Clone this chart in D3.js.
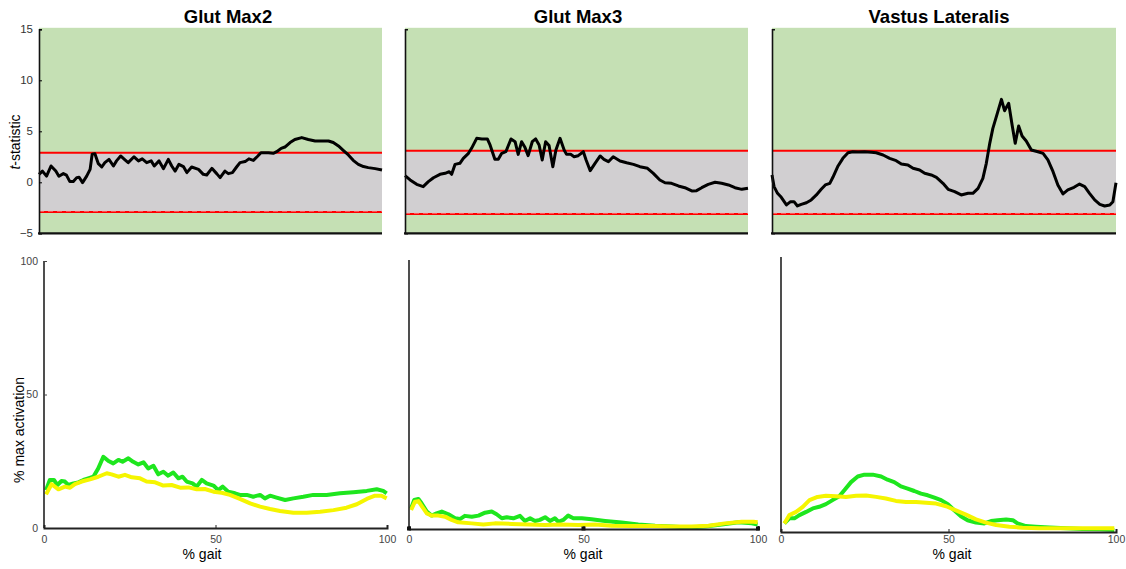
<!DOCTYPE html>
<html>
<head>
<meta charset="utf-8">
<script src="https://cdn.jsdelivr.net/npm/d3@7"></script>
<style>
  body { margin: 0; background: #fff; }
  svg { display: block; font-family: "Liberation Sans", Arial, sans-serif; }
</style>
</head>
<body>
<div id="chart"></div>
<script>
// ---- data ----
const muscles = ["Glut Max2", "Glut Max3", "Vastus Lateralis"];
const tTicks = [-5, 0, 5, 10, 15];
const actTicks = [0, 50, 100];
const gaitTicks = [0, 50, 100];
const tCritical = [2.9, 3.1, 3.1];

// SPM t-statistic curves, [% gait, t]
const tGlutMax2 = [[0,0.78],[1,1.1],[2.2,0.6],[3.5,1.6],[4.9,1.1],[5.8,0.6],[7.1,0.85],[8,0.7],[9,0.07],[10,0.07],[11,0.46],[11.7,0.5],[12.7,-0.03],[13.9,0.6],[14.9,1.27],[15.5,2.75],[16.3,2.8],[17.3,1.83],[18.3,1.5],[19.2,1.93],[20.4,2.25],[21.7,1.6],[22.6,2.1],[23.8,2.58],[24.9,2.25],[26,1.93],[27.7,2.5],[29,2.1],[30.1,2.3],[31.4,1.93],[32.7,2.1],[33.6,1.6],[35,2.1],[36.3,1.34],[37.7,2.25],[38.7,1.6],[39.7,1.1],[40.8,1.76],[42.1,1.54],[43.1,0.95],[44.5,1.5],[46.5,1.27],[47.9,0.78],[48.9,0.72],[50.4,1.37],[51.8,0.85],[52.8,0.46],[54.2,1.1],[55.2,0.85],[56.4,0.95],[57.6,1.5],[58.6,1.93],[60.1,2.03],[61.2,2.3],[62.5,2.15],[63.8,2.58],[64.7,2.9],[66.9,2.9],[68.3,2.84],[69.3,3.0],[70.6,3.33],[71.7,3.46],[73.2,3.9],[74.6,4.2],[76.6,4.38],[78.5,4.2],[80.5,4.05],[82.4,4.05],[84.4,4.05],[85.8,3.9],[87.3,3.56],[88.7,3.14],[90.2,2.68],[91.6,2.15],[93.1,1.76],[94.6,1.54],[96,1.44],[98,1.34],[100,1.2]];
const tGlutMax3 = [[0,0.65],[1.5,0.23],[3.4,-0.2],[5.3,-0.43],[6.8,0.06],[8.3,0.45],[10.2,0.78],[11.7,0.88],[12.9,1.04],[13.6,0.78],[14.6,1.76],[16,1.86],[17,2.35],[18.5,2.84],[19.4,3.33],[20.9,4.31],[22.4,4.25],[24,4.25],[24.8,3.66],[26.2,2.25],[27.2,2.25],[28.2,2.84],[29.4,3.0],[30.9,4.25],[32.1,3.98],[33,2.74],[34,3.98],[35,3.4],[35.9,2.61],[37.1,3.98],[38.1,4.25],[39.1,3.66],[40,2.19],[41,3.98],[42,3.6],[43.1,1.53],[44,3.17],[45.2,4.31],[46.4,3.17],[47.1,2.74],[48.3,2.74],[49.3,2.51],[50.5,2.61],[52,3.0],[52.8,2.19],[54,1.14],[55.4,1.86],[56.9,2.58],[58,2.25],[59.3,2.02],[60.7,2.51],[62.7,2.09],[64.6,1.92],[66.6,1.76],[68.5,1.53],[70.7,1.37],[72.4,0.88],[74.3,0.23],[75.8,-0.04],[77.7,-0.1],[79.7,-0.36],[81.6,-0.53],[83.6,-0.85],[85,-0.82],[86.5,-0.53],[88.4,-0.2],[90.4,0],[92.3,-0.1],[94.3,-0.26],[96.2,-0.53],[98.2,-0.69],[100,-0.59]];
const tVastusLat = [[0,0.71],[0.6,-0.42],[1.6,-1.08],[2.7,-1.47],[4.2,-2.22],[5.4,-1.9],[6.4,-1.9],[7.4,-2.32],[8.5,-2.16],[10,-2.0],[11.4,-1.73],[12.9,-1.24],[14.3,-0.69],[15.5,-0.26],[16.8,-0.1],[17.7,0.49],[19.2,1.6],[20.6,2.35],[22.1,2.9],[23.5,3.0],[25,2.97],[26.9,3.0],[28.9,2.94],[30.3,2.9],[32.3,2.68],[34.2,2.35],[36.1,2.12],[37.6,1.79],[39.5,1.7],[41,1.37],[42.9,1.21],[44.4,0.88],[46.3,0.72],[47.8,0.49],[49.7,-0.1],[51.2,-0.69],[53.1,-0.92],[55,-1.24],[57,-1.08],[58.4,-1.08],[59.9,-0.59],[61.3,0.39],[62.3,1.86],[63.3,3.82],[64.2,5.29],[65.5,6.76],[66.7,8.13],[67.6,7.02],[68.8,7.74],[69.8,5.62],[70.7,3.82],[71.7,5.52],[72.7,4.54],[73.9,4.05],[75.4,3.17],[77.3,3.0],[78.8,2.84],[80.2,2.19],[81.7,1.04],[83.1,-0.26],[84.6,-1.14],[86,-0.75],[87.8,-0.49],[89.4,-0.17],[90.9,-0.42],[92.3,-1.08],[93.8,-1.73],[95.3,-2.16],[96.7,-2.32],[98.2,-2.22],[99.1,-1.9],[100,-0.04]];

// mean activation curves, [% gait, % max activation]
const actGreenGlutMax2 = [[0.6,14.2],[1.7,18],[2.9,18],[3.9,16.1],[5.1,17.6],[6.1,17.4],[7.1,16.1],[8.6,16.7],[10,17.1],[11.5,18],[12.9,18.6],[14.4,19.2],[15.8,22.3],[17.3,26.7],[18.8,25.1],[20.2,24.2],[21.7,25.5],[22.9,24.8],[24.6,26.1],[26,24.8],[27.5,23.8],[29,24.6],[30.4,22.3],[31.9,23.3],[33.3,20.1],[34.8,21.1],[36.2,19.6],[37.7,20.8],[39.2,18.6],[40.4,19.2],[41.6,17.4],[43.3,16.7],[44.5,15.5],[46,18],[47.4,16.7],[49.4,15.9],[50.8,14.2],[52.1,15.5],[53.7,13.6],[55.7,13],[57.1,12.4],[59.1,12.4],[61,11.7],[63,12.4],[64.4,11.1],[65.9,12.1],[67.8,11.4],[70.3,10.5],[72.7,11.1],[75.6,11.7],[78.5,12.4],[82.4,12.4],[86.3,13],[90.2,13.4],[94.1,13.9],[97,14.5],[98.9,13.9],[99.9,13]];
const actYellowGlutMax2 = [[0.6,12.6],[2.2,16.4],[4.2,14.5],[6.1,15.5],[7.6,15.1],[9,16.4],[11,17.4],[13.4,18.2],[15.8,19.2],[18.3,20.5],[19.7,20.1],[21.7,19.2],[23.6,19.9],[25.6,19],[28,18.6],[29.9,17.4],[32.4,17.1],[34.8,15.9],[37.2,16.1],[39.7,15.1],[42.1,15.2],[44.5,14.5],[46.9,14.6],[49.4,13.6],[51.8,13.2],[54.2,12.4],[57.1,10.9],[60.1,9.2],[63,8],[65.9,7.1],[68.8,6.4],[72.7,5.7],[76.6,5.7],[80.5,6.1],[84.4,6.7],[88.2,7.6],[91.2,8.9],[94.1,10.9],[96.5,12.1],[98.4,12.1],[99.9,11.1]];
const actGreenGlutMax3 = [[0.6,7.7],[1.5,10.8],[2.7,11.2],[3.6,9.6],[5.1,6.5],[6.5,5],[7.9,5.8],[9.4,6.5],[11.3,5.5],[13.2,4],[14.6,3.7],[16,4.9],[18,4.6],[19.9,5],[21.8,6.1],[23.7,6.5],[25.1,5.5],[26.6,4],[28,4.4],[29.9,4],[31.8,4.9],[33.2,3],[34.7,4],[36.1,3],[37.5,3.4],[39,4.4],[40.4,3],[41.8,4],[42.8,2.7],[44.2,3.4],[45.6,5],[47.1,4],[49.5,4],[52.3,3.6],[56.2,3],[60.9,2.4],[65.7,1.7],[70.5,1.2],[75.3,0.9],[80,0.6],[84.8,0.9],[89.6,1.7],[94.4,2.5],[98.2,2.1],[99.9,1.7]];
const actYellowGlutMax3 = [[0.6,7.1],[1.7,10.2],[2.7,10.4],[3.8,8.3],[5.1,5.8],[6.5,5],[8.4,5],[10.3,4.6],[12.2,3.4],[14.1,2.5],[18,2.1],[21.3,1.7],[24.6,2.1],[29.4,1.9],[34.2,1.7],[39,1.5],[43.7,1.7],[48.5,1.5],[53.3,1.7],[58.1,1.2],[63.8,1.1],[69.5,1.1],[75.3,0.9],[81,0.9],[85.8,1.2],[90.5,2.1],[95.3,2.7],[98.7,2.7],[99.9,2.5]];
const actGreenVastusLat = [[1,3.2],[2.5,5.1],[4,5.1],[5.5,6.3],[7.5,7.5],[9.5,8.8],[11.4,9.4],[13.4,10.4],[15.4,11.9],[17.4,13.3],[18.9,15.6],[20.9,18.6],[22.9,20.7],[24.9,21.4],[27.4,21.4],[29.9,20.7],[31.8,19.5],[33.8,18.6],[35.8,17],[37.8,16.2],[39.8,15.3],[41.8,14.3],[43.8,13.7],[45.8,12.8],[47.8,11.9],[49.8,10.4],[51.7,8.1],[53.7,5.9],[55.7,4.4],[58.2,3.5],[60.7,3.2],[62.7,4.1],[64.7,4.4],[67.2,4.7],[69.2,4.4],[70.6,3.2],[73.1,2.2],[76.1,2],[80.1,1.7],[85.1,1.4],[90,1.1],[95,1],[99.5,0.7]];
const actYellowVastusLat = [[1,3.2],[2.5,6.3],[4.5,7.5],[6.5,9.4],[8.5,11.9],[10.9,13.1],[13.4,13.5],[16.4,13.3],[19.4,13.1],[22.4,13.5],[25.4,13.6],[28.4,13.1],[31.3,12.5],[34.3,11.6],[37.3,11.2],[40.3,11.2],[43.3,10.9],[46.3,10.6],[49.3,9.6],[52.2,8.1],[55.2,6.5],[58.2,4.7],[61.2,3.5],[64.2,2.6],[68.2,2],[72.1,1.6],[77.1,1.4],[83.1,1.4],[90,1.4],[99.5,1.4]];

const tSeries = [tGlutMax2, tGlutMax3, tVastusLat];
const greenSeries = [actGreenGlutMax2, actGreenGlutMax3, actGreenVastusLat];
const yellowSeries = [actYellowGlutMax2, actYellowGlutMax3, actYellowVastusLat];

// ---- layout (pixels) ----
const W = 1126, H = 569;
const topPanels = [
  { left: 39, right: 382, top: 29.3, bottom: 233.3, titleX: 228, labels: true },
  { left: 405, right: 748, top: 29.3, bottom: 233.3, titleX: 578, labels: false },
  { left: 772, right: 1116, top: 29.3, bottom: 233.3, titleX: 939, labels: false }
];
const bottomPanels = [
  { left: 44, right: 387, y0: 528, y100: 261, axisTop: 261, xLabel: 202, yLabels: true, squares: false },
  { left: 409, right: 758, y0: 529, y100: 261, axisTop: 260, xLabel: 583, yLabels: false, squares: true },
  { left: 781, right: 1116, y0: 532, y100: 264, axisTop: 257, xLabel: 952, yLabels: false, squares: false }
];
const tickLabelTop = 536;   // x tick labels sit on one row under all three panels

const colors = { green: "#c5e0b4", grey: "#d1cfd1", red: "#ff0000", actGreen: "#1ee61e", actYellow: "#f5f500" };

const svg = d3.select("#chart").append("svg")
  .attr("width", W)
  .attr("height", H);

topPanels.forEach((p, i) => {
  const x = d3.scaleLinear().domain([0, 100]).range([p.left, p.right]);
  const y = d3.scaleLinear().domain([-5, 15]).range([p.bottom, p.top]);
  const g = svg.append("g");

  // background: green outside threshold, grey inside
  g.append("rect")
    .attr("x", x(0)).attr("y", y(15) - 1.5)
    .attr("width", x(100) - x(0)).attr("height", y(-5) - y(15) + 1.5)
    .attr("fill", colors.green);
  g.append("rect")
    .attr("x", x(0)).attr("y", y(tCritical[i]))
    .attr("width", x(100) - x(0)).attr("height", y(-tCritical[i]) - y(tCritical[i]))
    .attr("fill", colors.grey);

  // threshold lines
  [tCritical[i], -tCritical[i]].forEach(v => {
    g.append("line")
      .attr("x1", x(0)).attr("x2", x(100))
      .attr("y1", y(v)).attr("y2", y(v))
      .attr("stroke", colors.red).attr("stroke-width", 2);
  });
  // faint dashed overlay on the lower threshold
  g.append("line")
    .attr("x1", x(0)).attr("x2", x(100))
    .attr("y1", y(-tCritical[i]) - 0.8).attr("y2", y(-tCritical[i]) - 0.8)
    .attr("stroke", "#f7b0b0").attr("stroke-width", 0.8)
    .attr("stroke-dasharray", "5,4");

  // t curve
  const line = d3.line().x(d => x(d[0])).y(d => y(d[1]));
  g.append("path")
    .datum(tSeries[i])
    .attr("d", line)
    .attr("fill", "none")
    .attr("stroke", "#000")
    .attr("stroke-width", 3)
    .attr("stroke-linejoin", "round");

  // axes
  const yAxis = g.append("g")
    .attr("transform", `translate(${x(0)},0)`)
    .call(d3.axisLeft(y).tickValues(tTicks).tickSize(-3).tickPadding(6));
  yAxis.select(".domain").attr("stroke", "#111").attr("stroke-width", 1.6);
  if (p.labels) {
    yAxis.selectAll(".tick text").attr("fill", "#333").style("font-size", "11.5px");
  } else {
    yAxis.selectAll(".tick").remove();
  }
  g.append("line")
    .attr("x1", x(0) - 1).attr("x2", x(100))
    .attr("y1", y(-5)).attr("y2", y(-5))
    .attr("stroke", "#111").attr("stroke-width", 2.2);

  // title
  svg.append("text")
    .attr("x", p.titleX).attr("y", 23)
    .attr("text-anchor", "middle")
    .style("font-size", "18.5px")
    .style("font-weight", "bold")
    .text(muscles[i]);
});

// t-statistic label
svg.append("text")
  .attr("transform", "translate(20,142) rotate(-90)")
  .attr("text-anchor", "middle")
  .style("font-size", "14px")
  .call(t => {
    t.append("tspan").style("font-style", "italic").text("t");
    t.append("tspan").text("-statistic");
  });

bottomPanels.forEach((p, i) => {
  const x = d3.scaleLinear().domain([0, 100]).range([p.left, p.right]);
  const y = d3.scaleLinear().domain([0, 100]).range([p.y0, p.y100]);
  const g = svg.append("g");

  const line = d3.line().x(d => x(d[0])).y(d => y(d[1])).curve(d3.curveLinear);
  g.append("path")
    .datum(greenSeries[i])
    .attr("d", line)
    .attr("fill", "none")
    .attr("stroke", colors.actGreen)
    .attr("stroke-width", 4)
    .attr("stroke-linejoin", "round");
  g.append("path")
    .datum(yellowSeries[i])
    .attr("d", line)
    .attr("fill", "none")
    .attr("stroke", colors.actYellow)
    .attr("stroke-width", 4)
    .attr("stroke-linejoin", "round");

  // y axis
  g.append("line")
    .attr("x1", x(0)).attr("x2", x(0))
    .attr("y1", p.axisTop).attr("y2", y(0))
    .attr("stroke", "#222").attr("stroke-width", 1.6);
  if (p.yLabels) {
    const yAxis = g.append("g")
      .attr("transform", `translate(${x(0)},0)`)
      .call(d3.axisLeft(y).tickValues(actTicks).tickSize(-3).tickPadding(6));
    yAxis.select(".domain").remove();
    yAxis.selectAll(".tick line").attr("stroke", "#444");
    yAxis.selectAll(".tick text").attr("fill", "#444").style("font-size", "10.5px");
  }

  // x axis
  const xAxis = g.append("g")
    .attr("transform", `translate(0,${y(0)})`)
    .call(d3.axisBottom(x).tickValues(gaitTicks).tickSize(-3).tickPadding(tickLabelTop - y(0)));
  xAxis.select(".domain").attr("stroke", "#222").attr("stroke-width", 2);
  xAxis.selectAll(".tick line").attr("stroke", "#222");
  xAxis.selectAll(".tick text").attr("fill", "#444").style("font-size", "10.5px");
  if (p.squares) {
    g.selectAll("rect.tickmark")
      .data(gaitTicks)
      .enter()
      .append("rect")
      .attr("class", "tickmark")
      .attr("x", d => x(d) - 2).attr("y", y(0) - 2.5)
      .attr("width", 4).attr("height", 4)
      .attr("fill", "#111");
  }

  g.append("text")
    .attr("x", p.xLabel).attr("y", 559)
    .attr("text-anchor", "middle")
    .style("font-size", "14px")
    .text("% gait");
});

svg.append("text")
  .attr("transform", "translate(24,430) rotate(-90)")
  .attr("text-anchor", "middle")
  .style("font-size", "14px")
  .text("% max activation");
</script>
</body>
</html>
